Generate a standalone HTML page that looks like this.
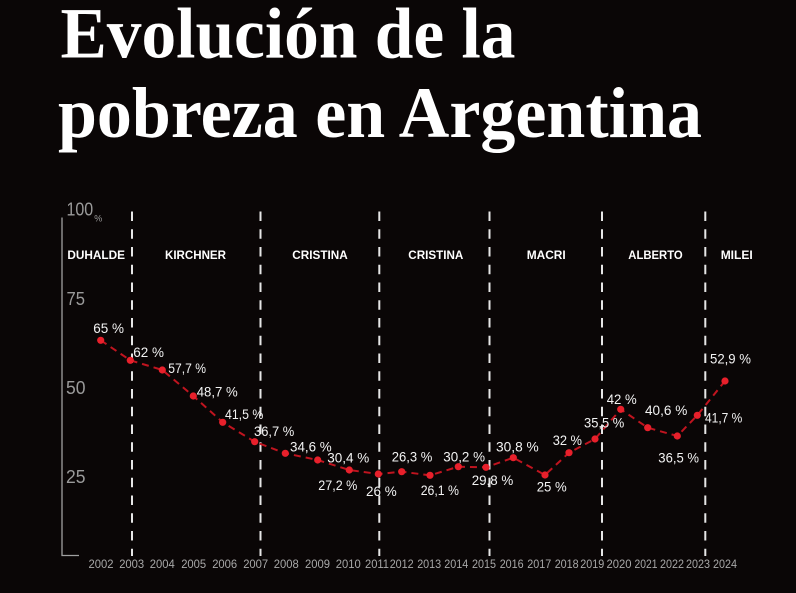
<!DOCTYPE html>
<html>
<head>
<meta charset="utf-8">
<style>
  html,body{margin:0;padding:0;background:#0a0606;}
  body{width:796px;height:593px;overflow:hidden;}
  svg{display:block;}
  .t{font-family:"Liberation Serif",serif;font-weight:bold;fill:#fff;}
  .v{font-family:"Liberation Sans",sans-serif;font-size:14px;fill:#f2f2f2;}
  .p{font-family:"Liberation Sans",sans-serif;font-size:12px;font-weight:bold;fill:#fff;}
  .y{font-family:"Liberation Sans",sans-serif;font-size:11.5px;fill:#a8a8a8;}
  .ax{font-family:"Liberation Sans",sans-serif;font-size:18px;fill:#9a9a9a;}
</style>
</head>
<body>
<svg width="796" height="593" viewBox="0 0 796 593" xmlns="http://www.w3.org/2000/svg">
  <rect width="796" height="593" fill="#0a0606"/>

  <!-- Title -->
  <text class="t" x="60.5" y="57.5" font-size="72" textLength="455" lengthAdjust="spacingAndGlyphs">Evolución de la</text>
  <text class="t" x="58" y="137" font-size="72" textLength="644" lengthAdjust="spacingAndGlyphs">pobreza en Argentina</text>

  <!-- Y axis -->
  <polyline points="62,217.5 62,555.5 79,555.5" fill="none" stroke="#a0a0a0" stroke-width="1.3"/>
  <text class="ax" x="66.5" y="215.7" textLength="26.7" lengthAdjust="spacingAndGlyphs">100</text>
  <text x="94.3" y="221.7" font-family="Liberation Sans, sans-serif" font-size="9" fill="#9a9a9a">%</text>
  <text class="ax" x="66.5" y="305" textLength="18.5" lengthAdjust="spacingAndGlyphs">75</text>
  <text class="ax" x="66" y="394" textLength="19.5" lengthAdjust="spacingAndGlyphs">50</text>
  <text class="ax" x="66" y="483" textLength="19.5" lengthAdjust="spacingAndGlyphs">25</text>

  <!-- Vertical dashed separators -->
  <g stroke="#e6e6e6" stroke-width="2" stroke-dasharray="9.5 8.25">
    <line x1="132" y1="211.5" x2="132" y2="556"/>
    <line x1="260.5" y1="211.5" x2="260.5" y2="556"/>
    <line x1="379.3" y1="211.5" x2="379.3" y2="556"/>
    <line x1="489.5" y1="211.5" x2="489.5" y2="556"/>
    <line x1="602" y1="211.5" x2="602" y2="556"/>
    <line x1="705.3" y1="211.5" x2="705.3" y2="556"/>
  </g>

  <!-- Party labels -->
  <g class="p" text-anchor="middle">
    <text x="96.2" y="259" textLength="57.7" lengthAdjust="spacingAndGlyphs">DUHALDE</text>
    <text x="195.5" y="259" textLength="61" lengthAdjust="spacingAndGlyphs">KIRCHNER</text>
    <text x="320" y="259" textLength="55.4" lengthAdjust="spacingAndGlyphs">CRISTINA</text>
    <text x="435.8" y="259" textLength="55" lengthAdjust="spacingAndGlyphs">CRISTINA</text>
    <text x="546.2" y="259" textLength="39" lengthAdjust="spacingAndGlyphs">MACRI</text>
    <text x="655.5" y="259" textLength="54.4" lengthAdjust="spacingAndGlyphs">ALBERTO</text>
    <text x="736.7" y="259" textLength="32" lengthAdjust="spacingAndGlyphs">MILEI</text>
  </g>

  <!-- Data line -->
  <polyline fill="none" stroke="#c0141f" stroke-width="2" stroke-dasharray="7 5"
    points="100.7,340.3 130.3,360.3 162.3,370 193.3,396 222.7,422.3 254.7,441.7 285.3,453.3 317.7,460 349.3,470 378.3,474 401.7,471.7 430,475.3 458.3,466.7 486,467.3 513.3,457.7 545,475 569,452.7 595,439 620.7,409.3 647.7,427.7 677.3,436 697.3,415.3 725,381"/>
  <g fill="#e8202b">
    <circle cx="100.7" cy="340.3" r="3.6"/>
    <circle cx="130.3" cy="360.3" r="3.6"/>
    <circle cx="162.3" cy="370" r="3.6"/>
    <circle cx="193.3" cy="396" r="3.6"/>
    <circle cx="222.7" cy="422.3" r="3.6"/>
    <circle cx="254.7" cy="441.7" r="3.6"/>
    <circle cx="285.3" cy="453.3" r="3.6"/>
    <circle cx="317.7" cy="460" r="3.6"/>
    <circle cx="349.3" cy="470" r="3.6"/>
    <circle cx="378.3" cy="474" r="3.6"/>
    <circle cx="401.7" cy="471.7" r="3.6"/>
    <circle cx="430" cy="475.3" r="3.6"/>
    <circle cx="458.3" cy="466.7" r="3.6"/>
    <circle cx="486" cy="467.3" r="3.6"/>
    <circle cx="513.3" cy="457.7" r="3.6"/>
    <circle cx="545" cy="475" r="3.6"/>
    <circle cx="569" cy="452.7" r="3.6"/>
    <circle cx="595" cy="439" r="3.6"/>
    <circle cx="620.7" cy="409.3" r="3.6"/>
    <circle cx="647.7" cy="427.7" r="3.6"/>
    <circle cx="677.3" cy="436" r="3.6"/>
    <circle cx="697.3" cy="415.3" r="3.6"/>
    <circle cx="725" cy="381" r="3.6"/>
  </g>

  <!-- Value labels -->
  <g class="v">
    <text x="93.3" y="333" textLength="30.7" lengthAdjust="spacingAndGlyphs">65 %</text>
    <text x="133.3" y="357" textLength="30.7" lengthAdjust="spacingAndGlyphs">62 %</text>
    <text x="168.3" y="373" textLength="37.7" lengthAdjust="spacingAndGlyphs">57,7 %</text>
    <text x="196.7" y="396.5" textLength="41" lengthAdjust="spacingAndGlyphs">48,7 %</text>
    <text x="225" y="419" textLength="38.3" lengthAdjust="spacingAndGlyphs">41,5 %</text>
    <text x="254" y="436" textLength="40.3" lengthAdjust="spacingAndGlyphs">36,7 %</text>
    <text x="290" y="451.7" textLength="41.7" lengthAdjust="spacingAndGlyphs">34,6 %</text>
    <text x="327.3" y="462.7" textLength="42" lengthAdjust="spacingAndGlyphs">30,4 %</text>
    <text x="318.3" y="490" textLength="39" lengthAdjust="spacingAndGlyphs">27,2 %</text>
    <text x="366" y="496" textLength="30.7" lengthAdjust="spacingAndGlyphs">26 %</text>
    <text x="391.7" y="461.7" textLength="40.6" lengthAdjust="spacingAndGlyphs">26,3 %</text>
    <text x="420.7" y="495" textLength="38.3" lengthAdjust="spacingAndGlyphs">26,1 %</text>
    <text x="443.3" y="461.7" textLength="41.7" lengthAdjust="spacingAndGlyphs">30,2 %</text>
    <text x="471.7" y="485" textLength="41.6" lengthAdjust="spacingAndGlyphs">29,8 %</text>
    <text x="496" y="451.7" textLength="42.7" lengthAdjust="spacingAndGlyphs">30,8 %</text>
    <text x="536.7" y="491.7" textLength="30" lengthAdjust="spacingAndGlyphs">25 %</text>
    <text x="552.7" y="445" textLength="29.3" lengthAdjust="spacingAndGlyphs">32 %</text>
    <text x="584" y="427.3" textLength="40.3" lengthAdjust="spacingAndGlyphs">35,5 %</text>
    <text x="606.7" y="404" textLength="30" lengthAdjust="spacingAndGlyphs">42 %</text>
    <text x="645" y="415" textLength="42.3" lengthAdjust="spacingAndGlyphs">40,6 %</text>
    <text x="658.3" y="462.7" textLength="40.7" lengthAdjust="spacingAndGlyphs">36,5 %</text>
    <text x="705" y="422.3" textLength="37.3" lengthAdjust="spacingAndGlyphs">41,7 %</text>
    <text x="710" y="363.3" textLength="41" lengthAdjust="spacingAndGlyphs">52,9 %</text>
  </g>

  <!-- Year labels -->
  <g class="y" text-anchor="middle">
    <text x="101" y="568" textLength="25" lengthAdjust="spacingAndGlyphs">2002</text>
    <text x="131.7" y="568" textLength="25" lengthAdjust="spacingAndGlyphs">2003</text>
    <text x="162.3" y="568" textLength="25" lengthAdjust="spacingAndGlyphs">2004</text>
    <text x="193.7" y="568" textLength="25" lengthAdjust="spacingAndGlyphs">2005</text>
    <text x="224.7" y="568" textLength="25" lengthAdjust="spacingAndGlyphs">2006</text>
    <text x="255.7" y="568" textLength="25" lengthAdjust="spacingAndGlyphs">2007</text>
    <text x="286.3" y="568" textLength="25" lengthAdjust="spacingAndGlyphs">2008</text>
    <text x="317.5" y="568" textLength="25" lengthAdjust="spacingAndGlyphs">2009</text>
    <text x="348.3" y="568" textLength="25" lengthAdjust="spacingAndGlyphs">2010</text>
    <text x="377" y="568" textLength="24" lengthAdjust="spacingAndGlyphs">2011</text>
    <text x="401.7" y="568" textLength="24" lengthAdjust="spacingAndGlyphs">2012</text>
    <text x="429.2" y="568" textLength="24" lengthAdjust="spacingAndGlyphs">2013</text>
    <text x="456.3" y="568" textLength="24" lengthAdjust="spacingAndGlyphs">2014</text>
    <text x="484" y="568" textLength="24" lengthAdjust="spacingAndGlyphs">2015</text>
    <text x="511.7" y="568" textLength="24" lengthAdjust="spacingAndGlyphs">2016</text>
    <text x="539.3" y="568" textLength="24" lengthAdjust="spacingAndGlyphs">2017</text>
    <text x="566.7" y="568" textLength="24" lengthAdjust="spacingAndGlyphs">2018</text>
    <text x="592.3" y="568" textLength="24" lengthAdjust="spacingAndGlyphs">2019</text>
    <text x="619" y="568" textLength="25" lengthAdjust="spacingAndGlyphs">2020</text>
    <text x="646" y="568" textLength="23" lengthAdjust="spacingAndGlyphs">2021</text>
    <text x="672" y="568" textLength="24" lengthAdjust="spacingAndGlyphs">2022</text>
    <text x="698" y="568" textLength="24" lengthAdjust="spacingAndGlyphs">2023</text>
    <text x="725" y="568" textLength="24" lengthAdjust="spacingAndGlyphs">2024</text>
  </g>
</svg>
</body>
</html>
